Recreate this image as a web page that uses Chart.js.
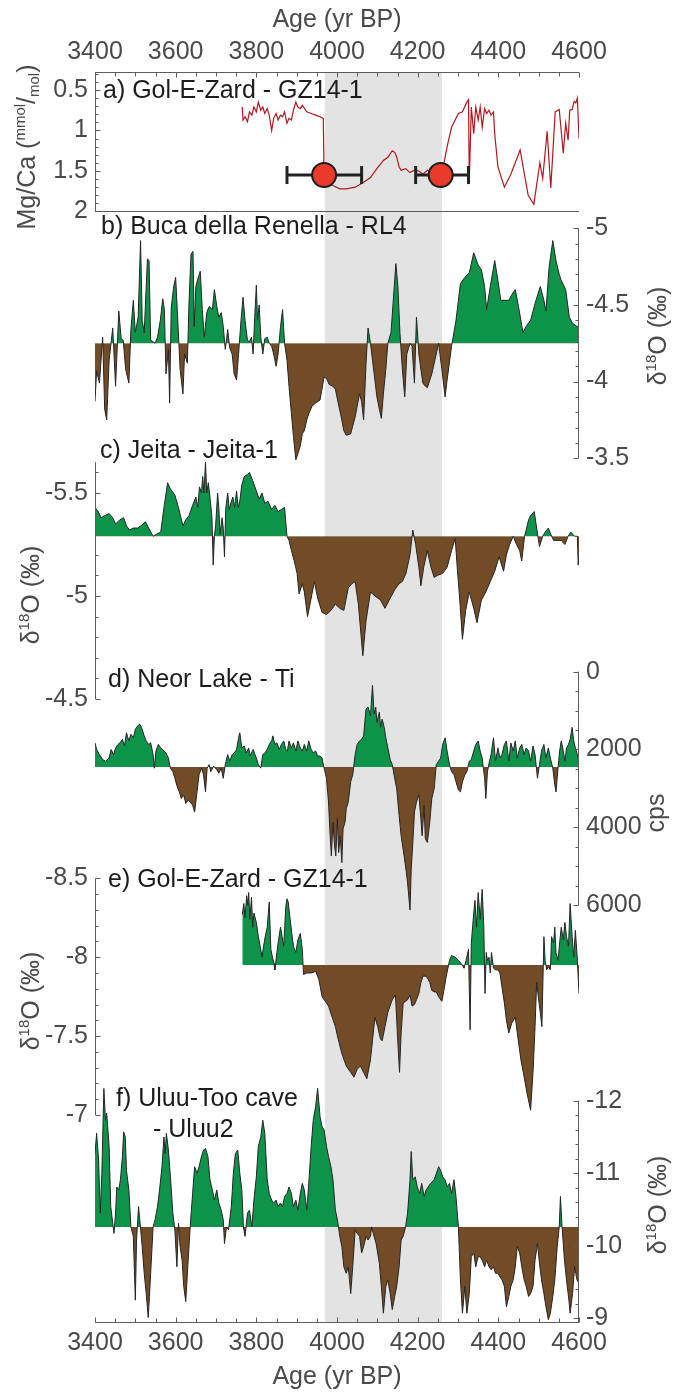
<!DOCTYPE html>
<html>
<head>
<meta charset="utf-8">
<script src="https://cdn.jsdelivr.net/npm/chart.js@4.4.1/dist/chart.umd.min.js"></script>
<style>
  html, body { margin: 0; padding: 0; background: #ffffff; }
  #wrap { width: 688px; height: 1393px; position: relative; }
  canvas { display: block; }
</style>
</head>
<body>
<div id="wrap"><canvas id="chart" width="688" height="1393"></canvas></div>
<script>
// ---------------- DATA ----------------
const xTickLabels = [3400, 3600, 3800, 4000, 4200, 4400, 4600];
const shadeRange = [3970, 4260];

// a) Gol-E-Zard GZ14-1 Mg/Ca
const aYear = [
  3765,3767,3772,3778,3783,3789,3794,3800,3805,3811,
  3816,3821,3827,3832,3838,3843,3849,3854,3860,3865,
  3870,3876,3881,3887,3892,3898,3903,3909,3914,3925,
  3936,3947,3958,3966,3968,3974,3990,4007,4023,4045,
  4066,4083,4099,4115,4126,4137,4143,4148,4154,4159,
  4170,4181,4192,4203,4213,4224,4235,4252,4262,4273,
  4284,4301,4311,4322,4326,4328,4333,4339,4344,4350,
  4355,4360,4366,4371,4377,4382,4388,4391,4399,4415,
  4431,4454,4474,4488,4503,4510,4521,4530,4541,4551,
  4561,4567,4573,4577,4583,4588,4592,4596,4600];
const aMgCa = [
  0.71,0.87,0.83,0.89,0.77,0.81,0.71,0.77,0.65,0.75,
  0.71,0.79,0.73,0.81,1.00,0.85,0.79,0.87,0.81,0.83,
  0.77,0.91,0.85,0.87,0.75,0.65,0.71,0.73,0.69,0.77,
  0.79,0.81,0.83,0.85,1.55,1.64,1.68,1.72,1.72,1.70,
  1.64,1.58,1.47,1.37,1.33,1.25,1.27,1.33,1.45,1.49,
  1.47,1.52,1.49,1.50,1.54,1.49,1.52,1.54,1.49,1.20,
  0.96,0.79,0.77,0.65,0.62,1.62,0.71,1.04,0.71,0.87,
  0.71,0.96,0.73,0.79,0.75,0.81,0.77,1.04,1.45,1.70,
  1.54,1.24,1.80,1.91,1.40,1.59,1.01,1.71,0.77,0.74,
  1.28,0.91,1.12,0.75,0.74,0.64,0.66,0.60,1.10];
// age-model tie points with age uncertainty
const tieAge = [3968, 4257];
const tieMgCa = [1.55, 1.55];
const tieAgeLo = [3876, 4195];
const tieAgeHi = [4061, 4326];

// b) Buca della Renella RL4 d18O
const bYear = [
  3400,3404,3411,3419,3424,3429,3435,3444,3451,3459,
  3465,3470,3476,3484,3489,3495,3500,3507,3513,3517,
  3522,3530,3534,3538,3544,3549,3555,3562,3568,3572,
  3576,3582,3585,3589,3595,3600,3606,3611,3618,3622,
  3629,3633,3638,3643,3646,3650,3656,3661,3666,3671,
  3677,3683,3691,3696,3702,3707,3713,3718,3723,3729,
  3734,3740,3745,3751,3756,3762,3767,3772,3778,3783,
  3788,3792,3796,3800,3803,3807,3811,3816,3821,3827,
  3832,3838,3843,3849,3854,3860,3865,3870,3876,3881,
  3887,3892,3898,3903,3909,3914,3919,3925,3930,3938,
  3947,3958,3968,3974,3981,3990,3996,4003,4012,4017,
  4023,4034,4039,4045,4050,4056,4061,4066,4072,4077,
  4083,4088,4094,4099,4105,4110,4115,4121,4126,4134,
  4139,4146,4151,4156,4162,4168,4173,4181,4186,4192,
  4197,4203,4208,4213,4219,4224,4235,4252,4260,4268,
  4273,4284,4295,4306,4317,4328,4339,4350,4358,4366,
  4371,4380,4391,4399,4406,4415,4426,4434,4442,4450,
  4461,4469,4480,4491,4504,4513,4518,4526,4535,4543,
  4551,4556,4567,4576,4584,4595,4600];
const bD18O = [
  -3.87,-4.07,-3.99,-4.29,-3.82,-3.75,-4.14,-4.35,-3.97,-4.46,
  -4.28,-4.27,-4.08,-3.99,-4.34,-4.53,-4.32,-4.42,-4.92,-4.40,
  -4.32,-4.80,-4.79,-4.27,-4.26,-4.25,-4.29,-4.40,-4.54,-4.47,
  -4.05,-4.21,-3.86,-4.48,-4.62,-4.68,-4.36,-4.08,-3.92,-4.18,
  -4.12,-4.51,-4.83,-4.85,-4.36,-4.62,-4.68,-4.72,-4.47,-4.29,
  -4.45,-4.49,-4.47,-4.60,-4.49,-4.42,-4.45,-4.36,-4.21,-4.34,
  -4.22,-4.18,-4.05,-4.01,-4.18,-4.40,-4.55,-4.40,-4.27,-4.26,
  -4.29,-4.18,-4.42,-4.63,-4.40,-4.50,-4.29,-4.18,-4.28,-4.29,
  -4.25,-4.23,-4.18,-4.10,-4.18,-4.36,-4.47,-4.25,-4.14,-3.97,
  -3.79,-3.64,-3.49,-3.53,-3.58,-3.66,-3.68,-3.75,-3.79,-3.84,
  -3.86,-3.88,-4.03,-4.02,-3.98,-3.97,-3.95,-3.86,-3.75,-3.68,
  -3.65,-3.66,-3.71,-3.77,-3.84,-3.92,-3.87,-3.75,-4.12,-4.35,
  -4.25,-4.14,-4.01,-3.90,-3.82,-3.76,-3.92,-4.08,-4.25,-4.32,
  -4.51,-4.77,-4.62,-4.32,-4.08,-3.90,-4.18,-4.25,-4.23,-3.99,
  -4.42,-4.18,-4.08,-3.99,-3.97,-3.96,-4.05,-4.25,-4.08,-3.90,
  -4.01,-4.23,-4.40,-4.64,-4.68,-4.71,-4.84,-4.76,-4.73,-4.62,
  -4.47,-4.62,-4.79,-4.66,-4.53,-4.53,-4.53,-4.57,-4.60,-4.49,
  -4.32,-4.36,-4.40,-4.51,-4.62,-4.53,-4.46,-4.75,-4.92,-4.79,
  -4.70,-4.66,-4.60,-4.42,-4.38,-4.36,-4.36];
const bBase = -4.25;

// c) Jeita-1 d18O
const cYear = [
  3400,3408,3415,3424,3435,3444,3451,3462,3471,3478,
  3486,3495,3506,3513,3525,3533,3544,3552,3563,3571,
  3580,3587,3598,3607,3618,3625,3633,3642,3650,3655,
  3659,3664,3667,3670,3674,3677,3681,3685,3690,3693,
  3696,3699,3704,3707,3710,3715,3718,3721,3724,3729,
  3733,3738,3742,3746,3751,3755,3759,3764,3770,3778,
  3783,3791,3800,3807,3814,3821,3829,3838,3846,3854,
  3862,3870,3876,3881,3887,3894,3901,3906,3914,3919,
  3927,3936,3944,3952,3963,3974,3985,3996,4007,4017,
  4028,4037,4045,4053,4064,4072,4083,4094,4108,4119,
  4132,4143,4154,4162,4171,4181,4188,4195,4203,4208,
  4215,4224,4233,4241,4249,4262,4273,4284,4293,4298,
  4304,4311,4319,4328,4339,4347,4358,4369,4380,4391,
  4402,4413,4420,4428,4437,4445,4453,4458,4465,4469,
  4475,4480,4489,4495,4502,4510,4516,4524,4530,4537,
  4546,4556,4565,4573,4580,4589,4596,4598,4600];
const cD18O = [
  -5.43,-5.41,-5.38,-5.39,-5.40,-5.38,-5.35,-5.37,-5.38,-5.34,
  -5.32,-5.33,-5.33,-5.34,-5.36,-5.33,-5.29,-5.30,-5.31,-5.43,
  -5.55,-5.52,-5.49,-5.43,-5.34,-5.37,-5.39,-5.44,-5.48,-5.43,
  -5.53,-5.50,-5.58,-5.50,-5.65,-5.50,-5.55,-5.48,-5.38,-5.15,
  -5.29,-5.34,-5.50,-5.43,-5.30,-5.38,-5.33,-5.19,-5.42,-5.50,
  -5.42,-5.46,-5.48,-5.43,-5.51,-5.43,-5.46,-5.54,-5.58,-5.59,
  -5.60,-5.56,-5.51,-5.47,-5.50,-5.45,-5.46,-5.42,-5.44,-5.41,
  -5.42,-5.43,-5.29,-5.27,-5.22,-5.17,-5.11,-5.01,-5.06,-5.02,
  -4.90,-4.99,-5.07,-4.99,-4.92,-4.91,-4.93,-4.96,-4.94,-4.93,
  -5.04,-5.06,-5.07,-4.96,-4.71,-4.88,-5.02,-5.00,-4.98,-4.94,
  -4.99,-5.03,-5.06,-5.07,-5.11,-5.20,-5.32,-5.25,-5.14,-5.05,
  -5.14,-5.22,-5.14,-5.09,-5.10,-5.11,-5.14,-5.22,-5.28,-5.14,
  -4.99,-4.79,-4.93,-5.02,-4.94,-4.87,-4.98,-5.02,-5.07,-5.12,
  -5.19,-5.12,-5.20,-5.25,-5.29,-5.25,-5.22,-5.17,-5.29,-5.32,
  -5.37,-5.39,-5.41,-5.33,-5.24,-5.29,-5.31,-5.33,-5.30,-5.27,
  -5.27,-5.27,-5.25,-5.29,-5.31,-5.29,-5.29,-5.15,-5.19];
const cBase = -5.29;

// d) Neor Lake Ti (cps)
const dYear = [
  3400,3404,3411,3419,3426,3435,3440,3446,3451,3457,
  3462,3468,3473,3478,3484,3489,3495,3500,3506,3511,
  3517,3522,3527,3533,3538,3544,3547,3551,3557,3563,
  3571,3576,3582,3587,3593,3598,3604,3609,3614,3620,
  3625,3631,3636,3642,3647,3653,3658,3664,3669,3674,
  3678,3683,3687,3694,3702,3707,3713,3718,3723,3729,
  3734,3740,3745,3751,3756,3759,3764,3770,3775,3781,
  3785,3792,3800,3805,3811,3816,3821,3827,3832,3838,
  3841,3846,3851,3857,3862,3868,3873,3877,3881,3887,
  3892,3898,3903,3909,3914,3919,3925,3930,3936,3941,
  3947,3952,3958,3963,3968,3974,3979,3983,3986,3990,
  3994,3997,4001,4004,4008,4012,4015,4020,4023,4028,
  4034,4039,4045,4050,4056,4061,4066,4072,4077,4083,
  4088,4092,4096,4099,4105,4108,4112,4117,4121,4126,
  4132,4137,4143,4148,4154,4159,4164,4170,4175,4181,
  4184,4188,4192,4197,4203,4208,4211,4216,4219,4224,
  4230,4235,4241,4246,4252,4257,4262,4268,4273,4279,
  4284,4290,4295,4301,4306,4311,4317,4322,4328,4333,
  4339,4344,4350,4355,4360,4366,4369,4373,4378,4382,
  4388,4393,4399,4404,4409,4415,4420,4426,4431,4437,
  4442,4447,4453,4458,4464,4469,4475,4480,4486,4491,
  4497,4502,4507,4513,4518,4524,4529,4535,4540,4543,
  4548,4552,4556,4561,4565,4569,4574,4578,4583,4587,
  4591,4596,4600];
const dTi = [
  1830,2000,2130,2260,2300,2220,2000,2130,1960,1870,
  1830,1740,1910,1570,1780,1610,1700,1480,1390,1350,
  1480,1650,1780,1870,1830,2130,2480,2040,1870,1960,
  2040,2090,2220,2480,2570,2740,2960,3090,3260,3170,
  3390,3300,3350,3430,3610,3090,2650,2480,2650,3090,
  2480,2390,2570,2430,2520,2610,2480,2740,2390,2130,
  2300,2130,2090,2000,1700,1570,1960,1910,2090,1960,
  2170,2000,2220,2390,2480,2130,2090,2000,1870,1780,
  1650,1870,1830,2000,1870,1780,2000,2040,1780,1960,
  1830,2040,1780,1960,2040,1870,2040,1780,2000,2090,
  2040,2170,2170,2220,2480,2740,3350,4220,4740,3870,
  4480,4740,3780,4650,4220,4910,4040,3870,3520,3350,
  2830,2650,2130,1870,1780,1740,1650,960,910,1130,
  350,1090,910,1300,1040,1430,1220,1430,1700,1960,
  2260,2390,2740,3000,3700,4220,4570,5000,5430,6130,
  5090,4390,3610,3350,3170,3780,4220,3430,4300,4390,
  3870,3260,3000,2390,2300,2220,1870,1700,2040,2390,
  2570,2650,2830,3040,3090,2830,2650,2570,2300,2260,
  2040,1870,1780,2040,2220,2740,3260,2570,2300,2130,
  1700,2300,1960,2220,2130,1870,1780,2300,1830,2040,
  1780,2220,1960,1870,2130,1960,2040,2300,1910,2130,
  2740,2390,2040,1870,2220,1960,2220,2480,2910,3090,
  2480,2040,1780,2040,2300,1960,1870,1740,1430,1780,
  1960,2130,2300];
const dBase = 2450;

// e) Gol-E-Zard GZ14-1 d18O
const eYear = [
  3765,3769,3772,3776,3779,3781,3784,3788,3791,3794,
  3800,3805,3811,3814,3818,3822,3827,3832,3836,3840,
  3844,3846,3851,3855,3860,3864,3868,3873,3876,3879,
  3883,3888,3892,3898,3903,3909,3914,3917,3925,3936,
  3947,3955,3963,3971,3979,3988,3996,4003,4012,4023,
  4034,4042,4050,4058,4066,4074,4083,4094,4101,4108,
  4112,4119,4126,4137,4145,4150,4155,4159,4164,4170,
  4175,4181,4186,4192,4197,4203,4208,4213,4219,4224,
  4230,4235,4241,4246,4252,4260,4265,4271,4279,4284,
  4293,4301,4308,4315,4320,4326,4330,4333,4339,4342,
  4346,4350,4355,4360,4364,4367,4370,4373,4377,4380,
  4383,4388,4393,4399,4404,4409,4415,4420,4426,4433,
  4442,4447,4456,4464,4471,4480,4486,4491,4495,4500,
  4504,4508,4513,4516,4520,4524,4529,4532,4537,4540,
  4543,4548,4552,4556,4561,4565,4569,4574,4578,4583,
  4587,4591,4596,4600];
const eD18O = [
  -8.27,-8.34,-8.25,-8.39,-8.33,-8.41,-8.24,-8.38,-8.19,-8.28,
  -8.22,-8.13,-8.05,-8.00,-8.07,-8.13,-8.19,-8.35,-8.05,-8.00,
  -7.96,-7.92,-8.03,-8.11,-8.19,-8.13,-8.07,-8.32,-8.37,-8.35,
  -8.26,-8.15,-8.07,-8.03,-8.11,-8.15,-8.05,-7.89,-7.90,-7.90,
  -7.91,-7.86,-7.75,-7.72,-7.69,-7.62,-7.56,-7.48,-7.39,-7.31,
  -7.27,-7.24,-7.29,-7.31,-7.27,-7.23,-7.35,-7.62,-7.56,-7.48,
  -7.47,-7.56,-7.65,-7.73,-7.76,-7.50,-7.27,-7.52,-7.71,-7.72,
  -7.73,-7.76,-7.69,-7.70,-7.73,-7.77,-7.84,-7.88,-7.88,-7.87,
  -7.84,-7.79,-7.78,-7.78,-7.75,-7.72,-7.79,-7.88,-7.98,-8.01,
  -8.00,-7.98,-7.96,-7.93,-7.98,-8.05,-7.54,-8.09,-8.28,-8.36,
  -8.19,-8.41,-8.24,-8.43,-8.19,-7.77,-8.03,-7.98,-8.00,-7.90,
  -8.03,-7.93,-7.92,-7.92,-7.90,-7.81,-7.71,-7.60,-7.52,-7.58,
  -7.62,-7.52,-7.35,-7.24,-7.14,-7.03,-7.27,-7.56,-7.84,-7.73,
  -7.65,-7.56,-8.13,-7.98,-7.92,-7.94,-7.92,-8.13,-8.09,-8.19,
  -8.03,-7.98,-8.09,-8.19,-8.11,-8.22,-8.13,-8.07,-8.34,-8.13,
  -8.00,-8.17,-7.98,-7.77];
const eBase = -7.95;

// f) Uluu-Too cave Uluu2 d18O
const fYear = [
  3400,3404,3409,3413,3417,3422,3426,3429,3435,3439,
  3444,3447,3451,3454,3459,3463,3468,3471,3475,3478,
  3484,3489,3495,3500,3503,3508,3511,3517,3522,3527,
  3532,3535,3538,3544,3549,3555,3560,3566,3571,3574,
  3577,3582,3587,3593,3598,3603,3607,3611,3616,3620,
  3625,3631,3636,3642,3647,3653,3658,3664,3669,3674,
  3680,3685,3691,3696,3702,3707,3713,3718,3721,3726,
  3731,3738,3743,3748,3754,3759,3764,3768,3772,3778,
  3783,3789,3794,3800,3805,3811,3816,3821,3827,3832,
  3838,3843,3849,3854,3860,3865,3870,3876,3881,3887,
  3892,3898,3903,3909,3914,3919,3925,3930,3936,3941,
  3947,3952,3958,3963,3968,3974,3979,3985,3990,3996,
  4001,4007,4012,4017,4023,4028,4034,4039,4045,4050,
  4056,4061,4066,4072,4077,4083,4086,4090,4097,4105,
  4110,4115,4121,4126,4132,4137,4143,4148,4154,4159,
  4164,4170,4175,4181,4184,4188,4194,4199,4205,4210,
  4216,4221,4226,4232,4241,4252,4257,4262,4268,4273,
  4279,4284,4290,4295,4301,4306,4311,4317,4322,4328,
  4333,4339,4344,4350,4355,4360,4366,4371,4377,4382,
  4388,4393,4399,4404,4409,4415,4420,4426,4431,4437,
  4442,4447,4453,4458,4464,4469,4475,4480,4486,4491,
  4497,4502,4507,4513,4518,4524,4529,4535,4540,4546,
  4551,4554,4558,4564,4569,4575,4578,4584,4589,4595,
  4600];
const fD18O = [
  -11.27,-11.55,-11.18,-10.45,-11.00,-12.17,-11.73,-11.83,-11.37,-10.54,
  -10.31,-10.17,-10.45,-10.81,-10.77,-10.91,-11.23,-11.57,-11.50,-11.04,
  -10.77,-10.26,-10.13,-9.25,-10.08,-10.54,-10.36,-9.99,-9.62,-9.34,
  -9.01,-9.30,-9.62,-10.26,-10.36,-10.54,-10.77,-11.09,-11.50,-11.27,
  -11.55,-11.32,-10.95,-10.45,-10.22,-9.71,-10.31,-9.99,-9.80,-9.44,
  -9.23,-9.80,-10.26,-10.72,-11.09,-11.00,-11.09,-11.23,-11.32,-11.34,
  -11.23,-10.91,-10.77,-10.63,-10.77,-10.59,-10.49,-10.36,-10.03,-10.26,
  -10.22,-10.54,-11.00,-11.27,-11.32,-11.00,-10.77,-10.26,-10.13,-10.45,
  -10.49,-10.26,-10.63,-10.95,-11.37,-11.50,-11.73,-11.55,-10.91,-10.72,
  -10.63,-10.59,-10.63,-10.54,-10.59,-10.54,-10.68,-10.72,-10.81,-10.72,
  -10.54,-10.63,-10.49,-10.72,-10.86,-10.77,-10.49,-10.86,-11.37,-11.73,
  -11.92,-12.17,-11.78,-11.64,-11.60,-11.37,-11.23,-11.09,-10.91,-10.49,
  -10.36,-10.13,-9.99,-9.71,-9.62,-9.71,-9.34,-9.71,-10.22,-10.17,
  -10.13,-9.90,-9.99,-10.13,-10.08,-10.13,-10.26,-10.17,-10.03,-9.76,
  -9.44,-9.07,-9.44,-9.53,-9.34,-9.12,-9.30,-9.44,-9.71,-10.08,
  -10.13,-10.26,-10.45,-10.91,-11.30,-10.91,-10.95,-10.81,-10.72,-10.86,
  -10.68,-10.77,-10.81,-10.86,-10.91,-11.09,-11.04,-10.95,-10.91,-10.81,
  -10.86,-10.72,-10.91,-10.68,-10.26,-9.53,-9.07,-9.44,-9.07,-9.34,
  -9.85,-9.90,-9.71,-9.85,-9.85,-9.80,-9.71,-9.80,-9.71,-9.67,
  -9.71,-9.62,-9.62,-9.57,-9.53,-9.44,-9.16,-9.30,-9.44,-9.53,
  -9.71,-9.99,-9.90,-9.71,-9.53,-9.44,-9.30,-9.34,-9.44,-9.80,
  -10.03,-9.76,-9.53,-9.34,-9.16,-8.98,-9.07,-9.30,-9.53,-9.99,
  -10.26,-10.68,-10.26,-9.80,-9.53,-9.25,-9.07,-9.34,-9.71,-9.53,
  -9.48];
const fBase = -10.26;

// y tick labels
const aTicks = [0.5, 1, 1.5, 2];
const bTicks = [-5, -4.5, -4, -3.5];
const cTicks = [-5.5, -5, -4.5];
const dTicks = [0, 2000, 4000, 6000];
const eTicks = [-8.5, -8, -7.5, -7];
const fTicks = [-12, -11, -10, -9];

// ---------------- STYLE ----------------
const FAMILY = '"Liberation Sans", Arial, Helvetica, sans-serif';
const FS = 25;
const TICK_COLOR = '#4a4a4a';
const AXIS_COLOR = '#5c5c5c';
const GREEN = '#0e934a';
const BROWN = '#724b27';
const LINE = '#252525';
const RED = '#b3171f';

Chart.defaults.font.family = FAMILY;
Chart.defaults.font.size = FS;

const pts = (xs, ys) => xs.map((x, i) => ({ x: x, y: ys[i] }));

function areaSeries(xs, ys, axis, base, order) {
  return {
    data: pts(xs, ys), xAxisID: 'x', yAxisID: axis, order: order,
    borderColor: LINE, borderWidth: 1, pointRadius: 0, tension: 0,
    backgroundColor: GREEN,
    fill: { target: { value: base }, above: GREEN, below: BROWN }
  };
}

// y scales share a column per side (stacked) so their labels are not clipped
function yScale(pos, min, max, ticks, weight, stackWeight) {
  return {
    type: 'linear', position: pos, reverse: true, min: min, max: max,
    stack: 'col', stackWeight: stackWeight, weight: weight,
    afterFit: s => { s.width = (pos === 'left') ? 95 : 109; },
    afterBuildTicks: s => { s.ticks = ticks.map(v => ({ value: v })); },
    ticks: { autoSkip: false, padding: 7, color: TICK_COLOR, font: { size: FS }, callback: v => String(v) },
    grid: { display: false, drawTicks: false },
    border: { display: false }
  };
}

function xScale(pos, h, titlePad) {
  return {
    type: 'linear', position: pos, min: 3400, max: 4600,
    afterFit: s => { s.height = h; },
    afterBuildTicks: s => { s.ticks = xTickLabels.map(v => ({ value: v })); },
    ticks: { autoSkip: false, maxRotation: 0, minRotation: 0, padding: 5, color: TICK_COLOR, font: { size: FS }, callback: v => String(v) },
    grid: { display: false, drawTicks: false },
    border: { display: false },
    title: { display: true, text: 'Age (yr BP)', color: TICK_COLOR, font: { size: FS }, padding: titlePad }
  };
}

// axis spines: which scale, side, extent and tick spacing
const spineDefs = [
  { id: 'yA', side: 'left',  from: null,  to: 2,    major: aTicks, minor: 0.1 },
  { id: 'yB', side: 'right', from: -5,    to: -3.5, major: bTicks, minor: 0.1 },
  { id: 'yC', side: 'left',  from: -5.65, to: -4.5, major: cTicks, minor: 0.1 },
  { id: 'yD', side: 'right', from: 0,     to: 6000, major: dTicks, minor: 500 },
  { id: 'yE', side: 'left',  from: -8.5,  to: -7,   major: eTicks, minor: 0.1 },
  { id: 'yF', side: 'right', from: -12,   to: null, major: fTicks, minor: 0.2 }
];

const panelLabels = [
  { t: 'a) Gol-E-Zard - GZ14-1', x: 103, y: 98 },
  { t: 'b) Buca della Renella - RL4', x: 101, y: 234 },
  { t: 'c) Jeita - Jeita-1', x: 100, y: 458 },
  { t: 'd) Neor Lake - Ti', x: 108, y: 687 },
  { t: 'e) Gol-E-Zard - GZ14-1', x: 108, y: 887 },
  { t: 'f) Uluu-Too cave', x: 116, y: 1106 },
  { t: '- Uluu2', x: 153, y: 1137 }
];

const D18O = [{ t: 'δ', s: 1, dy: 0 }, { t: '18', s: 0.6, dy: -0.42 }, { t: 'O (‰)', s: 1, dy: 0 }];
const axisTitles = [
  { parts: [{ t: 'Mg/Ca (', s: 1, dy: 0 }, { t: 'mmol', s: 0.6, dy: -0.42 }, { t: '/', s: 1, dy: 0 }, { t: 'mol', s: 0.6, dy: 0.16 }, { t: ')', s: 1, dy: 0 }], x: 35, y: 147 },
  { parts: D18O, x: 666, y: 336 },
  { parts: D18O, x: 39, y: 595 },
  { parts: [{ t: 'cps', s: 1, dy: 0 }], x: 664, y: 813 },
  { parts: D18O, x: 39, y: 1001 },
  { parts: D18O, x: 666, y: 1205 }
];

function drawRich(ctx, parts, bx, cy) {
  ctx.save();
  ctx.translate(bx, cy);
  ctx.rotate(-Math.PI / 2);
  ctx.textBaseline = 'alphabetic';
  ctx.textAlign = 'left';
  ctx.fillStyle = TICK_COLOR;
  let total = 0;
  parts.forEach(p => { ctx.font = Math.round(FS * p.s) + 'px ' + FAMILY; total += ctx.measureText(p.t).width; });
  let u = -total / 2;
  parts.forEach(p => {
    ctx.font = Math.round(FS * p.s) + 'px ' + FAMILY;
    ctx.fillText(p.t, u, p.dy * FS);
    u += ctx.measureText(p.t).width;
  });
  ctx.restore();
}

const decor = {
  id: 'decor',
  beforeDatasetsDraw(chart) {
    const { ctx, chartArea: a, scales } = chart;
    const x0 = scales.x.getPixelForValue(shadeRange[0]);
    const x1 = scales.x.getPixelForValue(shadeRange[1]);
    ctx.save();
    ctx.fillStyle = '#e3e3e3';
    ctx.fillRect(x0, a.top, x1 - x0, a.bottom - a.top);
    ctx.restore();
  },
  afterDatasetsDraw(chart) {
    const { ctx, chartArea: a, scales } = chart;
    const xs = scales.x;
    ctx.save();
    ctx.strokeStyle = AXIS_COLOR;
    ctx.lineWidth = 1;
    const seg = (x1, y1, x2, y2) => { ctx.beginPath(); ctx.moveTo(x1, y1); ctx.lineTo(x2, y2); ctx.stroke(); };
    const L = Math.round(a.left) + 0.5, R = Math.round(a.right) - 0.5;
    const T = Math.round(a.top) + 0.5, B = Math.round(a.bottom) - 0.5;
    // top and bottom x axes
    seg(L - 0.5, T, R + 0.5, T);
    seg(L - 0.5, B, R + 0.5, B);
    for (let v = 3400; v <= 4600; v += 50) {
      const px = Math.round(xs.getPixelForValue(v)) + 0.5;
      const len = (v % 200 === 0) ? 5 : 4;
      seg(px, T, px, T + len);
      seg(px, B, px, B - len);
    }
    // y spines
    spineDefs.forEach(sd => {
      const s = scales[sd.id];
      const from = sd.from === null ? s.min : sd.from;
      const to = sd.to === null ? s.max : sd.to;
      const y0 = s.getPixelForValue(from), y1 = s.getPixelForValue(to);
      const x = sd.side === 'left' ? L : R;
      const dir = sd.side === 'left' ? 1 : -1;
      seg(x, y0, x, y1);
      const start = Math.ceil(from / sd.minor - 1e-6), end = Math.floor(to / sd.minor + 1e-6);
      for (let k = start; k <= end; k++) {
        const v = k * sd.minor;
        const isMajor = sd.major.some(m => Math.abs(m - v) < 1e-6);
        const py = Math.round(s.getPixelForValue(v)) + 0.5;
        seg(x, py, x + dir * (isMajor ? 5 : 3), py);
      }
    });
    // panel a bottom line
    const yb = Math.round(scales.yA.getPixelForValue(2)) + 0.5;
    seg(L - 0.5, yb, R + 0.5, yb);
    ctx.restore();

    // panel labels
    ctx.save();
    ctx.font = FS + 'px ' + FAMILY;
    ctx.fillStyle = '#1c1c1c';
    ctx.textBaseline = 'alphabetic';
    ctx.textAlign = 'left';
    panelLabels.forEach(l => ctx.fillText(l.t, l.x, l.y));
    ctx.restore();

    // y axis titles
    axisTitles.forEach(t => drawRich(ctx, t.parts, t.x, t.y));
  }
};

const datasets = [
  // tie points (drawn on top)
  { data: pts(tieAge, tieMgCa), xAxisID: 'x', yAxisID: 'yA', order: 0, showLine: false,
    pointRadius: 12, pointHoverRadius: 12, pointBackgroundColor: '#ea3a2c', pointBorderColor: '#1e1e1e', pointBorderWidth: 2 },
  // age error bars
  { data: [{ x: tieAgeLo[0], y: tieMgCa[0] }, { x: tieAgeHi[0], y: tieMgCa[0] }], xAxisID: 'x', yAxisID: 'yA', order: 1,
    borderColor: '#222222', borderWidth: 3, pointStyle: 'line', pointRotation: 90, pointRadius: 9,
    pointBorderColor: '#222222', pointBorderWidth: 3, fill: false },
  { data: [{ x: tieAgeLo[1], y: tieMgCa[1] }, { x: tieAgeHi[1], y: tieMgCa[1] }], xAxisID: 'x', yAxisID: 'yA', order: 1,
    borderColor: '#222222', borderWidth: 3, pointStyle: 'line', pointRotation: 90, pointRadius: 9,
    pointBorderColor: '#222222', pointBorderWidth: 3, fill: false },
  // Mg/Ca
  { data: pts(aYear, aMgCa), xAxisID: 'x', yAxisID: 'yA', order: 2,
    borderColor: RED, borderWidth: 1.2, pointRadius: 0, tension: 0, fill: false },
  areaSeries(bYear, bD18O, 'yB', bBase, 3),
  areaSeries(cYear, cD18O, 'yC', cBase, 4),
  areaSeries(dYear, dTi, 'yD', dBase, 5),
  areaSeries(eYear, eD18O, 'yE', eBase, 6),
  areaSeries(fYear, fD18O, 'yF', fBase, 7)
];

new Chart(document.getElementById('chart'), {
  type: 'line',
  data: { datasets: datasets },
  options: {
    responsive: false,
    animation: false,
    devicePixelRatio: 1,
    layout: { padding: 0 },
    plugins: { legend: { display: false }, tooltip: { enabled: false } },
    events: [],
    scales: {
      x: xScale('bottom', 70, { top: 0, bottom: 1 }),
      x2: xScale('top', 72, { top: 5, bottom: 0 }),
      // left column: bands 72-350, 350-800, 800-1323 ; right: 72-560, 560-1000, 1000-1323
      yA: yScale('left', 0.27778, 3.70988, aTicks, 3, 278),
      yC: yScale('left', -6.19417, -4.00971, cTicks, 2, 450),
      yE: yScale('left', -8.99620, -5.68188, eTicks, 1, 523),
      yB: yScale('right', -6.0196, -2.83627, bTicks, 1, 488),
      yD: yScale('right', -2872.3, 8442, dTicks, 2, 440),
      yF: yScale('right', -13.38839, -8.93506, fTicks, 3, 323)
    }
  },
  plugins: [decor]
});
</script>
</body>
</html>
